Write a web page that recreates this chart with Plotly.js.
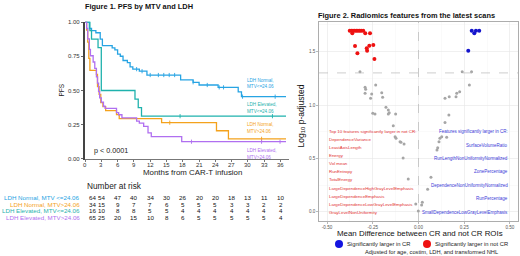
<!DOCTYPE html>
<html><head><meta charset="utf-8">
<script src="https://cdn.plot.ly/plotly-3.0.1.min.js"></script>
<style>html,body{margin:0;padding:0;background:#fff}#chart{width:520px;height:256px}</style>
</head><body><div id="chart"></div>
<script>
// ---------- Figure 1 data: Kaplan-Meier step curves ----------
const groupNames = ["LDH Normal, MTV <=24.06", "LDH Normal, MTV>24.06", "LDH Elevated, MTV<=24.06", "LDH Elevated, MTV>24.06"];
const curveLabels = [["LDH Normal,", "MTV<=24.06"], ["LDH Elevated,", "MTV<=24.06"], ["LDH Normal,", "MTV>24.06"], ["LDH Elevated,", "MTV>24.06"]];

const normLowT = [0, 0.8, 1.2, 2.0, 2.8, 3.2, 5.0, 5.5, 6.0, 6.5, 7.0, 7.8, 8.3, 8.8, 10.0, 11.4, 17.6, 19.9, 21.0, 24.5, 28.2, 28.8, 37];
const normLowS = [1, 0.953, 0.937, 0.922, 0.875, 0.828, 0.812, 0.797, 0.766, 0.75, 0.719, 0.703, 0.672, 0.656, 0.641, 0.613, 0.578, 0.56, 0.54, 0.523, 0.49, 0.455, 0.455];
const normLowCens = [9.5, 10.5, 12.0, 13.5, 14.5, 15.5, 16.5, 19.9, 22.5, 24.7, 25.5, 29.0, 35.0];

const normHighT = [0, 0.3, 0.5, 0.7, 0.9, 2.1, 2.3, 2.6, 2.9, 3.3, 3.8, 5.8, 6.3, 14.1, 24.2, 26.4, 37];
const normHighS = [1, 0.941, 0.853, 0.735, 0.647, 0.618, 0.529, 0.471, 0.412, 0.382, 0.353, 0.324, 0.294, 0.265, 0.206, 0.147, 0.147];
const normHighCens = [15.6, 32.5];

const elevLowT = [0, 0.9, 1.2, 2.4, 3.0, 9.2, 9.8, 10.4, 37];
const elevLowS = [1, 0.9375, 0.875, 0.8125, 0.5, 0.4375, 0.375, 0.3125, 0.3125];
const elevLowCens = [17.5, 34.5];

const elevHighT = [0, 0.3, 0.5, 0.8, 1.0, 1.5, 1.8, 2.1, 2.3, 2.5, 2.7, 3.0, 3.4, 3.7, 5.8, 6.2, 6.8, 9.5, 10.0, 10.8, 11.6, 12.2, 17.8, 37];
const elevHighS = [1, 0.954, 0.877, 0.8, 0.754, 0.708, 0.662, 0.6, 0.554, 0.492, 0.446, 0.415, 0.385, 0.369, 0.338, 0.323, 0.3, 0.277, 0.262, 0.238, 0.19, 0.163, 0.126, 0.126];
const elevHighCens = [19.6, 32.5, 35.9];

const riskTimes = [0, 3, 6, 9, 12, 15, 18, 21, 24, 27, 30, 33, 36];
const riskNormLow  = [64, 54, 47, 40, 34, 30, 26, 20, 20, 18, 13, 11, 10];
const riskNormHigh = [34, 15, 9, 7, 7, 6, 5, 5, 5, 3, 3, 2, 2];
const riskElevLow  = [16, 10, 8, 8, 5, 5, 4, 4, 4, 4, 4, 4, 4];
const riskElevHigh = [65, 25, 20, 15, 10, 8, 6, 5, 5, 5, 5, 5, 4];

const kmYTicks = [0, 0.25, 0.5, 0.75, 1];
const kmYTickText = ["0.00", "0.25", "0.50", "0.75", "1.00"];

// ---------- Figure 2 data: volcano plot ----------
const redX = [-0.376, -0.367, -0.358, -0.349, -0.340, -0.331, -0.322, -0.313, -0.302, -0.362, -0.291, -0.265, -0.347, -0.334, -0.283, -0.281, -0.269, -0.247, -0.241];
const redY = [1.696, 1.696, 1.696, 1.696, 1.696, 1.696, 1.696, 1.696, 1.696, 1.672, 1.672, 1.672, 1.553, 1.484, 1.531, 1.509, 1.556, 1.562, 1.431];
const blueX = [0.291, 0.314, 0.332, 0.305, 0.272];
const blueY = [1.696, 1.696, 1.696, 1.672, 1.509];
const greyX = [-0.320, -0.292, -0.289, -0.292, -0.234, -0.256, -0.262, -0.201, -0.196, -0.250, -0.238, -0.178, -0.165, -0.160, -0.165, -0.125, -0.138, -0.128, -0.123, -0.101, -0.096, -0.079, -0.084, -0.056, -0.015, -0.001,
               0.239, 0.290, 0.278, 0.225, 0.209, 0.205, 0.168, 0.145, 0.166, 0.145, 0.127, 0.154, 0.117, 0.112, 0.105, 0.101, 0.068, 0.050, 0.021, 0.017];
const greyY = [1.312, 1.166, 1.147, 1.110, 1.188, 1.103, 1.063, 1.115, 1.072, 0.922, 0.916, 0.978, 0.953, 0.928, 0.916, 0.916, 0.806, 0.703, 0.688, 0.656, 0.650, 0.634, 0.503, 0.306, 0.072, 0.006,
               1.312, 1.312, 1.188, 1.125, 1.110, 1.078, 1.078, 1.063, 0.906, 0.836, 0.703, 0.697, 0.688, 0.656, 0.600, 0.578, 0.322, 0.210, 0.088, 0.063];
const sigThreshold = [1.301];
const volXTicks = [-0.5, -0.25, 0, 0.25, 0.5];
const volXTickText = ["-0.50", "-0.25", "0.00", "0.25", "0.50"];
const volYTicks = [0, 0.5, 1, 1.5];
const volYTickText = ["0.0", "0.5", "1.0", "1.5"];

const notCRFeatures = ["Top 10 features significantly larger in not CR:", "DependenceVariance", "LeastAxisLength", "Energy", "Vol mean", "RunEntropy", "TotalEnergy", "LargeDependenceHighGrayLevelEmphasis", "LargeDependenceEmphasis", "LargeDependenceLowGrayLevelEmphasis", "GrayLevelNonUniformity"];
const crFeatures = ["Features significantly larger in CR:", "SurfaceVolumeRatio", "RunLengthNonUniformityNormalized", "ZonePercentage", "DependenceNonUniformityNormalized", "RunPercentage", "SmallDependenceLowGrayLevelEmphasis"];
const legendLabels = ["Significantly larger in CR", "Significantly larger in not CR"];

// ---------- styling & layout ----------
const W = 520, H = 256;
const FONT = 'Liberation Sans, Arial, sans-serif';
const P = x => x / W, Q = y => 1 - y / H;
const C = {blue: '#27a4e3', orange: '#f4a21c', teal: '#1fb2ad', purple: '#b06ff0'};
const kmPx = 5.433; // px per month

function survAt(T, S, t) { let v = S[0]; for (let i = 0; i < T.length; i++) if (T[i] <= t) v = S[i]; return v; }

const groups = [
  {T: normLowT, S: normLowS, cens: normLowCens, col: C.blue, risk: riskNormLow},
  {T: normHighT, S: normHighS, cens: normHighCens, col: C.orange, risk: riskNormHigh},
  {T: elevLowT, S: elevLowS, cens: elevLowCens, col: C.teal, risk: riskElevLow},
  {T: elevHighT, S: elevHighS, cens: elevHighCens, col: C.purple, risk: riskElevHigh}
];

const traces = [];
groups.forEach(g => {
  traces.push({x: g.T, y: g.S, xaxis: 'x', yaxis: 'y', mode: 'lines', line: {shape: 'hv', color: g.col, width: 1.3}, hoverinfo: 'skip'});
  traces.push({x: g.cens, y: g.cens.map(t => survAt(g.T, g.S, t)), xaxis: 'x', yaxis: 'y', mode: 'markers',
    marker: {symbol: 'line-ns', size: 3, line: {color: g.col, width: 0.9}}, hoverinfo: 'skip'});
});
traces.push({x: greyX, y: greyY, xaxis: 'x2', yaxis: 'y2', mode: 'markers', marker: {color: '#a6a6a6', size: 3}, hoverinfo: 'skip'});
traces.push({x: redX, y: redY, xaxis: 'x2', yaxis: 'y2', mode: 'markers', marker: {color: '#ee1111', size: 4}, hoverinfo: 'skip'});
traces.push({x: blueX, y: blueY, xaxis: 'x2', yaxis: 'y2', mode: 'markers', marker: {color: '#1414cc', size: 4}, hoverinfo: 'skip'});

const ann = [];
function A(o) { ann.push(Object.assign({showarrow: false, xref: 'paper', yref: 'paper', xanchor: 'center', yanchor: 'middle'}, o, {font: Object.assign({family: FONT, color: '#222'}, o.font || {})})); }

A({x: P(139), y: Q(6.5), text: '<b>Figure 1. PFS by MTV and LDH</b>', font: {size: 7.4, color: '#111'}});
A({x: P(406), y: Q(15), text: '<b>Figure 2. Radiomics features from the latest scans</b>', font: {size: 7.4, color: '#111'}});
A({x: P(61), y: Q(90.5), text: 'PFS', textangle: -90, font: {size: 6.5}});
// KM x tick labels, placed on the library's x axis
riskTimes.forEach(t => A({x: t, xref: 'x', y: Q(164.5), text: String(t), font: {size: 6, color: '#333'}}));
A({x: P(192.5), y: Q(172.5), text: 'Months from CAR-T infusion', font: {size: 7.9}});
A({x: P(91.5), y: Q(150), xanchor: 'left', text: 'p < 0.0001', font: {size: 7.2}});
A({x: P(85), y: Q(186), xanchor: 'left', text: 'Number at risk', font: {size: 8.3}});

const labelCols = [C.blue, C.teal, C.orange, C.purple];
const labelY = [[80, 86.5], [104, 111.5], [124, 131.5], [150, 157]];
curveLabels.forEach((ls, i) => ls.forEach((t, j) => A({x: P(245), y: Q(labelY[i][j]), xanchor: 'left', text: t, font: {size: 4.6, color: labelCols[i]}})));

const rowY = [197, 204, 210.5, 217];
groups.forEach((g, r) => {
  A({x: P(82), y: Q(rowY[r]), xanchor: 'right', text: groupNames[r], font: {size: 6.2, color: g.col}});
  g.risk.forEach((n, k) => A({x: riskTimes[k], xref: 'x', y: Q(rowY[r]), xanchor: k === 0 ? 'left' : 'center', xshift: k === 0 ? 2 : 0, text: String(n), font: {size: 6.2, color: '#111'}}));
});

A({x: P(301), y: Q(116.5), text: 'Log<sub>10</sub> p-adjusted', textangle: -90, font: {size: 8.5, color: '#111'}});
A({x: P(419.5), y: Q(233.5), text: 'Mean Difference between CR and not CR ROIs', font: {size: 7.9, color: '#111'}});
notCRFeatures.forEach((t, i) => A({x: P(327), y: Q(131.3 + 8.1 * i), xanchor: 'left', text: t, font: {size: 4.4, color: '#e23030'}}));
crFeatures.forEach((t, i) => A({x: P(510), y: Q(i === 0 ? 131 : 145 + 13.4 * (i - 1)), xanchor: 'right', text: t, font: {size: 4.5, color: '#3a3ad8'}}));
A({x: P(345), y: Q(244), xanchor: 'left', text: legendLabels[0], font: {size: 5.8}});
A({x: P(433), y: Q(244), xanchor: 'left', text: legendLabels[1], font: {size: 5.8}});
A({x: P(431), y: Q(252), text: 'Adjusted for age, costim, LDH, and transformed NHL', font: {size: 5.7}});

const shapes = [
  {type: 'line', xref: 'x2', yref: 'y2 domain', x0: 0, x1: 0, y0: 0, y1: 1, line: {color: '#b8b8b8', width: 0.7, dash: 'dash'}},
  {type: 'line', xref: 'x2 domain', yref: 'y2', x0: 0, x1: 1, y0: sigThreshold[0], y1: sigThreshold[0], line: {color: '#b8b8b8', width: 0.7, dash: 'dash'}},
  {type: 'circle', xref: 'paper', yref: 'paper', x0: P(335), x1: P(343), y0: Q(248), y1: Q(240), fillcolor: '#1414e0', line: {width: 0}},
  {type: 'circle', xref: 'paper', yref: 'paper', x0: P(423), x1: P(431), y0: Q(248), y1: Q(240), fillcolor: '#ee1111', line: {width: 0}}
];

const layout = {
  width: W, height: H, margin: {l: 0, r: 0, t: 0, b: 0, pad: 0},
  paper_bgcolor: '#fff', plot_bgcolor: '#fff', showlegend: false,
  font: {family: FONT},
  xaxis: {domain: [P(85), P(85 + 37.5 * kmPx)], range: [0, 37.5], anchor: 'y', tickvals: riskTimes, showticklabels: false,
    showline: true, linecolor: '#555', linewidth: 0.8, ticks: 'outside', ticklen: 2, tickwidth: 0.8, tickcolor: '#555',
    showgrid: false, zeroline: false, fixedrange: true},
  yaxis: {domain: [Q(159.5), Q(21.5)], range: [-0.004, 1.004], anchor: 'x', tickvals: kmYTicks, ticktext: kmYTickText,
    showline: true, linecolor: '#444', linewidth: 1.6, ticks: 'outside', ticklen: 2.5, tickwidth: 0.8, tickcolor: '#444',
    tickfont: {size: 6, color: '#333'}, showgrid: false, zeroline: false, fixedrange: true},
  xaxis2: {domain: [P(319), P(518)], range: [-0.544, 0.544], anchor: 'y2', tickvals: volXTicks, ticktext: volXTickText,
    showgrid: true, gridcolor: '#e6e6e6', gridwidth: 0.6,
    minor: {tickvals: [-0.375, -0.125, 0.125, 0.375], showgrid: true, gridcolor: '#f3f3f3', gridwidth: 0.4, ticks: ''},
    zeroline: false, showline: true, mirror: true, linecolor: '#8a8a8a', linewidth: 0.7,
    ticks: 'outside', ticklen: 2, tickwidth: 0.6, tickcolor: '#8a8a8a', tickfont: {size: 4.6, color: '#555'}, fixedrange: true},
  yaxis2: {domain: [Q(221), Q(22)], range: [-0.087, 1.778], anchor: 'x2', tickvals: volYTicks, ticktext: volYTickText,
    showgrid: true, gridcolor: '#e6e6e6', gridwidth: 0.6,
    minor: {tickvals: [0.25, 0.75, 1.25, 1.75], showgrid: true, gridcolor: '#f3f3f3', gridwidth: 0.4, ticks: ''},
    zeroline: false, showline: true, mirror: true, linecolor: '#8a8a8a', linewidth: 0.7,
    ticks: 'outside', ticklen: 2, tickwidth: 0.6, tickcolor: '#8a8a8a', tickfont: {size: 4.6, color: '#555'}, fixedrange: true},
  annotations: ann, shapes: shapes
};

Plotly.newPlot('chart', traces, layout, {staticPlot: true, displayModeBar: false});
</script></body></html>
